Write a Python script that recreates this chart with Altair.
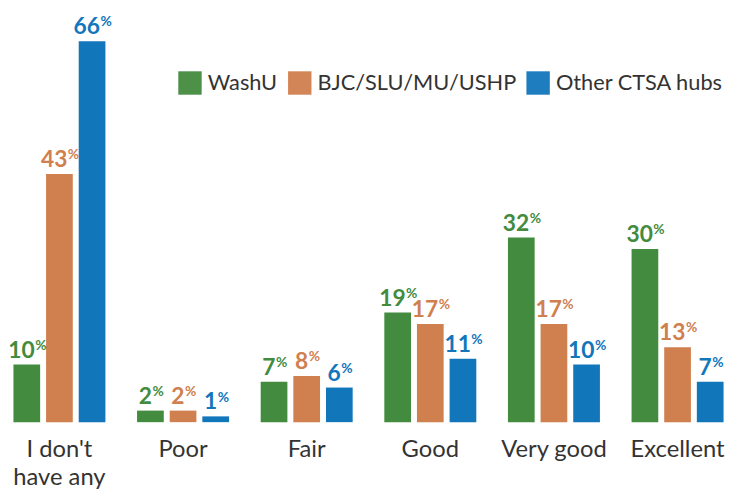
import altair as alt
import pandas as pd

categories = ["I don't have any", "Poor", "Fair", "Good", "Very good", "Excellent"]
series = ["WashU", "BJC/SLU/MU/USHP", "Other CTSA hubs"]
washu = [10, 2, 7, 19, 32, 30]
bjc = [43, 2, 8, 17, 17, 13]
other = [66, 1, 6, 11, 10, 7]
colors = ["#438b3f", "#d0804e", "#1276bb"]

rows = []
for vals, s in zip([washu, bjc, other], series):
    for c, v in zip(categories, vals):
        rows.append({"category": c, "series": s, "value": v, "label": str(v), "pct": "%"})
df = pd.DataFrame(rows)

FONT = "Lato"

xenc = alt.X(
    "category:N",
    sort=categories,
    scale=alt.Scale(range=[-10.5, 739.5], paddingInner=0.208, paddingOuter=0.104),
    axis=alt.Axis(
        title=None,
        domain=False,
        ticks=False,
        labelAngle=0,
        labelFont=FONT,
        labelFontSize=24,
        labelColor="#333333",
        labelPadding=16,
        labelLineHeight=28,
        labelBaseline="top",
        labelExpr="datum.value == \"I don't have any\" ? [\"I don't\", 'have any'] : datum.value",
    ),
)
xoff = alt.XOffset(
    "series:N",
    sort=series,
    scale=alt.Scale(paddingInner=0.1818, paddingOuter=0.0909),
)
yenc = alt.Y("value:Q", scale=alt.Scale(domain=[0, 71.3]), axis=None)
color = alt.Color(
    "series:N",
    sort=series,
    scale=alt.Scale(domain=series, range=colors),
    legend=alt.Legend(
        title=None,
        orient="none",
        legendX=172,
        legendY=61,
        direction="horizontal",
        symbolType="square",
        symbolSize=560,
        symbolStrokeWidth=0,
        labelFont=FONT,
        labelFontSize=22,
        labelColor="#333333",
        labelOffset=6,
        labelLimit=0,
        columnPadding=10,
        symbolOpacity=0.95,
    ),
)

base = alt.Chart(df).encode(x=xenc, xOffset=xoff, y=yenc)

bars = base.mark_bar().encode(color=color)

tcolor = alt.Color("series:N", sort=series, scale=alt.Scale(domain=series, range=colors), legend=None)
layers = [bars]
for ndig, split in [(1, 1.5), (2, 8)]:
    sub = base.transform_filter(f"length(datum.label) == {ndig}")
    num = sub.mark_text(
        font=FONT, fontSize=23, fontWeight="bold", align="right", baseline="alphabetic", dx=split, dy=-7
    ).encode(text="label:N", color=tcolor)
    pc = sub.mark_text(
        font=FONT, fontSize=14, fontWeight="bold", align="left", baseline="alphabetic", dx=split + 0.5, dy=-15
    ).encode(text="pct:N", color=tcolor)
    layers += [num, pc]

chart = alt.layer(*layers).properties(
    width=728,
    height=416,
    autosize=alt.AutoSizeParams(type="none"),
    padding={"left": 0, "top": 0, "right": 0, "bottom": 80},
).configure_view(stroke=None)

chart.save("out.html", embed_options={"renderer": "svg", "actions": False})
